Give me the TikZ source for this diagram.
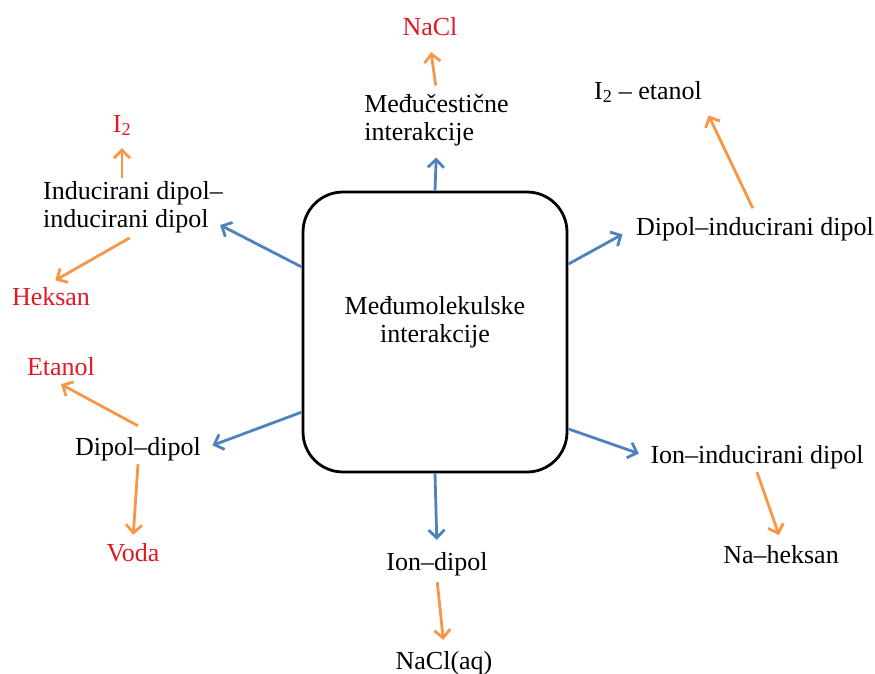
\documentclass[tikz,border=0pt]{standalone}
\usepackage{fontspec}
\setmainfont{Liberation Serif}
\newfontfamily\lblfont{Liberation Serif}
\usetikzlibrary{arrows.meta}
\definecolor{arrblue}{RGB}{79,129,189}
\definecolor{arrorange}{RGB}{247,150,70}
\definecolor{lblred}{RGB}{225,25,35}

\begin{document}
\begin{tikzpicture}[x=1pt, y=-1pt,
  txt/.style={font=\lblfont\fontsize{26pt}{28pt}\selectfont, inner sep=3pt, text height=19pt, text depth=6pt, anchor=base},
  two/.style={font=\lblfont\fontsize{26pt}{28pt}\selectfont, inner sep=3pt, align=left},
  hl/.style={txt, text=lblred},
  mainarr/.style={draw=arrblue, line width=2.8pt, -{Straight Barb[length=8pt,width=16pt]}},
  subarr/.style={draw=arrorange, line width=2.8pt, -{Straight Barb[length=8pt,width=16pt]}}]
\useasboundingbox (0,0) rectangle (875,673);

% centre
\node[draw, line width=2.8pt, rounded corners=40pt, minimum width=264pt, minimum height=280pt] (box) at (435,332) {};
\node[two, align=center] (mm) at (435,322) {Međumolekulske\\interakcije};

% interactions
\node[two] (mec) at (436.5,120.5) {Međučestične\\interakcije};
\node[txt] (dipind) at (755,235) {Dipol–inducirani dipol};
\node[txt] (ionind) at (757,463) {Ion–inducirani dipol};
\node[txt] (iondip) at (437,570) {Ion–dipol};
\node[txt] (dipdip) at (138,455) {Dipol–dipol};
\node[two] (ind) at (133,207) {Inducirani dipol–\\inducirani dipol};

% examples
\node[hl] (nacl) at (430,35) {NaCl};
\node[txt] (ieta) at (648,99) {I\textsubscript{2} – etanol};
\node[txt] (naheks) at (781,563) {Na–heksan};
\node[txt] (naclaq) at (444,669) {NaCl(aq)};
\node[hl] (etanol) at (61,375) {Etanol};
\node[hl] (voda) at (133,561) {Voda};
\node[hl] (itwo) at (122,132) {I\textsubscript{2}};
\node[hl] (heksan) at (51,305) {Heksan};

\draw[mainarr, shorten >=8pt] (box.90) -- (mec.south);
\draw[mainarr, shorten >=12pt] (box.27) -- (dipind.west);
\draw[mainarr, shorten >=9pt] (box.-36) -- (ionind.west);
\draw[mainarr, shorten >=8pt] (box.-90) -- (iondip.north);
\draw[mainarr, shorten >=9pt] (box.211) -- (dipdip.east);
\draw[mainarr] (box.154) -- ([xshift=-6pt,yshift=-18pt]ind.east);

\draw[subarr, shorten <=6pt, shorten >=8pt] (mec.north) -- (nacl.south);
\draw[subarr, shorten <=5pt, shorten >=8pt] (dipind.north) -- (ieta.south east);
\draw[subarr, shorten >=6pt] (ionind.south) -- (naheks.north);
\draw[subarr, shorten <=3pt, shorten >=7pt] (iondip.south) -- (naclaq.north);
\draw[subarr] ([yshift=7pt]dipdip.north) -- (etanol.south);
\draw[subarr, shorten >=4pt] (dipdip.south) -- (voda.north);
\draw[subarr, shorten >=7pt] (ind.north -| itwo.south) -- (itwo.south);
\draw[subarr, shorten <=4pt, shorten >=5pt] (ind.south) -- (heksan.north);
\end{tikzpicture}
\end{document}
